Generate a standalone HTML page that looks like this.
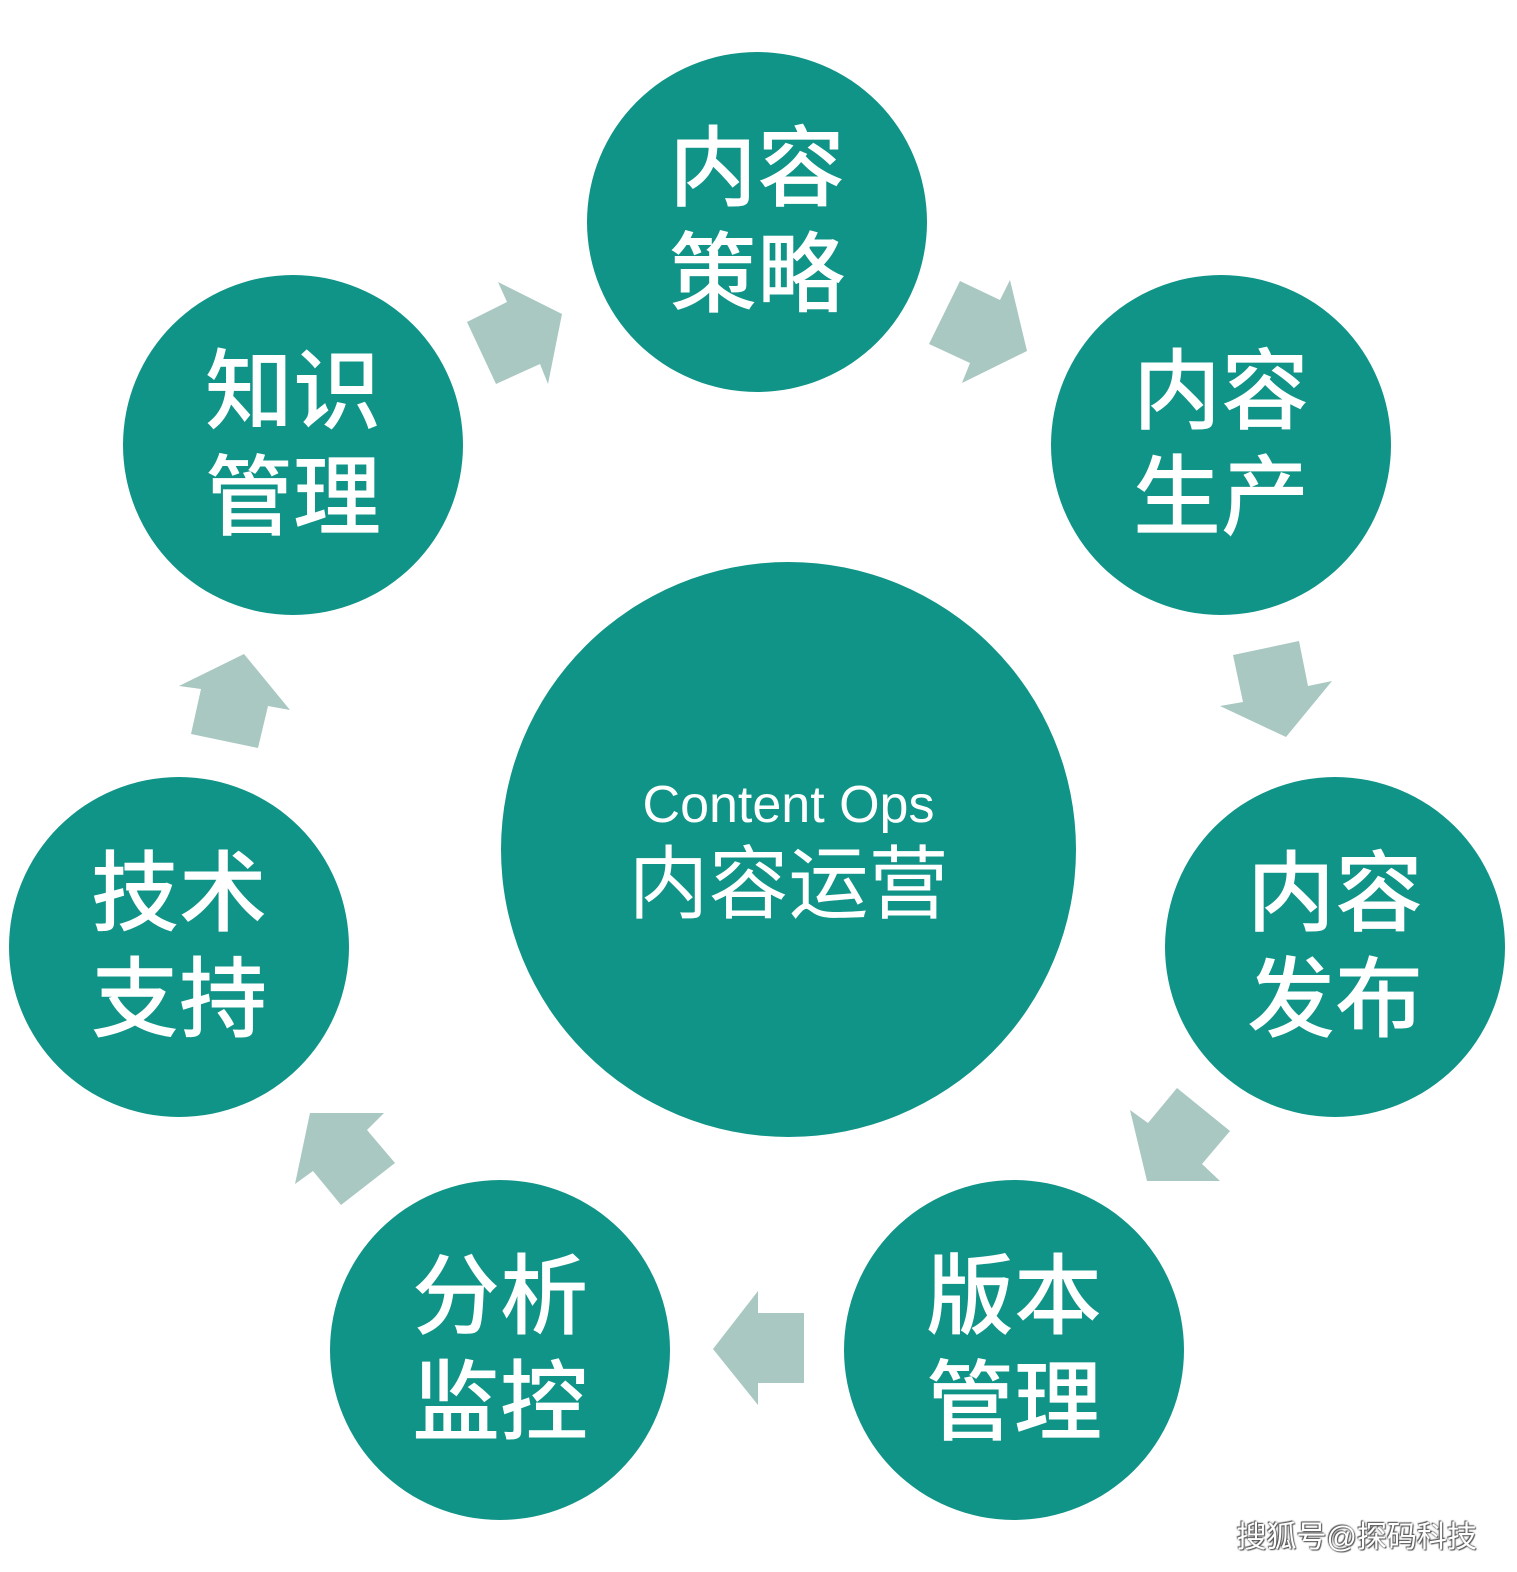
<!DOCTYPE html>
<html><head><meta charset="utf-8"><style>
html,body{margin:0;padding:0;background:#fff;}
body{width:1517px;height:1572px;position:relative;overflow:hidden;font-family:"Liberation Sans","Noto Sans CJK SC",sans-serif;}
.c{position:absolute;border-radius:50%;background:#109488;color:#fff;display:flex;flex-direction:column;align-items:center;justify-content:center;}
.s{width:340px;height:340px;font-size:88px;line-height:106px;font-weight:500;}
svg{position:absolute;left:0;top:0;}
.wm{position:absolute;right:40px;bottom:16px;font-size:30px;color:#fff;text-shadow:0 0 2px #555,1px 1px 1px #555,-1px -1px 1px #555;}
</style></head><body>
<svg width="1517" height="1572">
<g fill="#a9c8c2">
<polygon points="467,322 507,302 498,282 562,314 548,384 540,364 496,384"/>
<polygon points="929,344 960,281 1000,300 1010,280 1027,351 962,383 970,363"/>
<polygon points="1233,655 1299,641 1308,686 1332,681 1286,737 1220,706 1243,702"/>
<polygon points="1177,1088 1230,1131 1202,1164 1220,1181 1147,1181 1130,1110 1148,1123"/>
<polygon points="804,1313 804,1383 758,1383 758,1405 713,1349 758,1291 758,1313"/>
<polygon points="341,1205 395,1163 367,1130 384,1113 310,1113 295,1184 313,1171"/>
<polygon points="258,748 191,734 201,689 179,686 244,654 290,710 268,706"/>
</g>
</svg>
<div class="c" style="left:501px;top:562px;width:575px;height:575px;">
<div style="font-size:52px;line-height:60px;margin-top:10px;">Content Ops</div>
<div style="font-size:80px;line-height:100px;">内容运营</div>
</div>
<div class="c s" style="left:587px;top:52px;"><div>内容</div><div>策略</div></div>
<div class="c s" style="left:1051px;top:275px;"><div>内容</div><div>生产</div></div>
<div class="c s" style="left:1165px;top:777px;"><div>内容</div><div>发布</div></div>
<div class="c s" style="left:844px;top:1180px;"><div>版本</div><div>管理</div></div>
<div class="c s" style="left:330px;top:1180px;"><div>分析</div><div>监控</div></div>
<div class="c s" style="left:9px;top:777px;"><div>技术</div><div>支持</div></div>
<div class="c s" style="left:123px;top:275px;"><div>知识</div><div>管理</div></div>
<div class="wm">搜狐号@探码科技</div>
</body></html>
